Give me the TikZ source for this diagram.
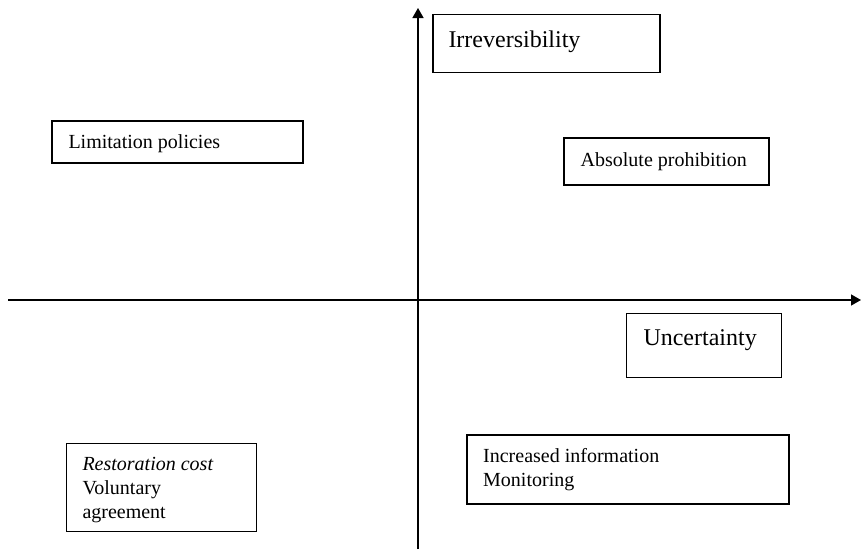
\documentclass[tikz,border=0pt]{standalone}
\usepackage{fontspec}
\setmainfont{Liberation Serif}
\usetikzlibrary{arrows.meta}
\begin{document}
\begin{tikzpicture}[x=1pt,y=-1pt,
  box/.style={draw=black, line width=1.3pt, inner sep=0pt, rectangle},
  txt/.style={anchor=base west, inner sep=0pt, font=\fontsize{20}{24}\selectfont, align=left},
  bigtxt/.style={anchor=base west, inner sep=0pt, font=\fontsize{24}{28}\selectfont},
  axis/.style={line width=1.4pt, -{Triangle[length=10pt,width=11pt]}}]
\useasboundingbox (0,0) rectangle (861,549);
\fill[white] (0,0) rectangle (861,549);
% axes
\coordinate (xs) at (8,300);
\coordinate (xe) at (861,300);
\coordinate (ys) at (418,549);
\coordinate (ye) at (418,8);
\draw[axis] (xs) -- (xe);
\draw[axis] (ys) -- (ye);
% boxes
\node[box, minimum width=227pt, minimum height=58pt] (irrbox) at (546.5,43.3) {};
\node[bigtxt] (irr) at (448.3,47) {Irreversibility};
\node[box, minimum width=251pt, minimum height=42pt] (limbox) at (177.5,142) {};
\node[txt] (lim) at (68.3,148) {Limitation policies};
\node[box, minimum width=205pt, minimum height=47pt] (absbox) at (666.5,161.5) {};
\node[txt] (abs) at (580.5,166.5) {Absolute prohibition};
\node[box, minimum width=155pt, minimum height=64pt] (uncbox) at (704.2,345.5) {};
\node[bigtxt] (unc) at (643.3,345) {Uncertainty};
\node[box, minimum width=190pt, minimum height=88pt] (resbox) at (161.7,487.5) {};
\node[txt, anchor=north west] (res) at (82.3,457) {\textit{Restoration cost}\\Voluntary\\agreement};
\node[box, minimum width=322pt, minimum height=69pt] (incbox) at (628,469.5) {};
\node[txt, anchor=north west] (inc) at (483,448.5) {Increased information\\Monitoring};
\end{tikzpicture}
\end{document}
